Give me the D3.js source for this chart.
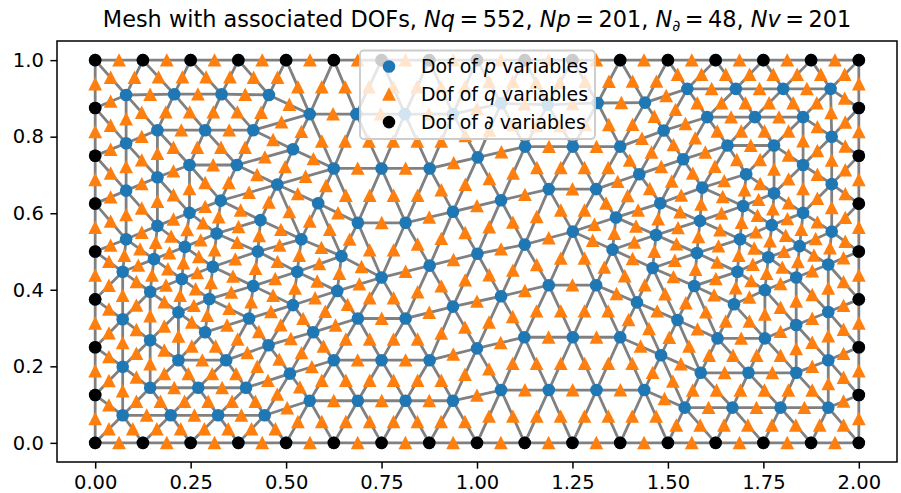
<!DOCTYPE html>
<html>
<head>
<meta charset="utf-8">
<script src="https://cdn.jsdelivr.net/npm/d3@7"></script>
<style>
body { margin: 0; background: #fff; }
svg { font-family: "DejaVu Sans", sans-serif; }
</style>
</head>
<body>
<script>

// boundary vertices (black dots)
var boundaryX = [0, 0.125, 0.25, 0.375, 0.5, 0.625, 0.75, 0.875, 1, 1.125, 1.25, 1.375, 1.5, 1.625, 1.75, 1.875, 2];
var sideY = [0.125, 0.25, 0.375, 0.5, 0.625, 0.75, 0.875];

// interior vertices
var innerX = [0.081,0.207,0.331,0.455,0.163,0.288,0.414,0.081,0.247,0.371,
	0.163,0.081,0.329,0.247,0.433,0.163,0.318,0.081,0.235,0.426,
	0.562,0.684,0.811,0.937,0.518,0.625,0.750,0.876,0.477,0.584,
	0.937,0.688,0.813,0.540,0.645,1.063,1.185,1.316,1.440,1.489,
	1.002,1.126,1.251,1.375,1.425,1.188,1.312,1.063,1.480,1.364,
	1.251,1.469,1.125,1.355,1.001,1.551,1.678,1.802,1.926,1.603,
	1.728,1.854,1.929,1.656,1.778,1.540,1.705,1.854,1.590,1.778,
	1.929,1.697,1.854,1.584,1.772,1.929,1.689,1.845,1.576,1.763,
	0.154,0.308,0.072,0.227,0.414,0.144,0.299,0.218,0.072,0.403,
	0.288,0.144,0.454,0.218,0.343,0.072,0.144,0.270,0.395,0.072,
	0.198,0.322,0.444,0.750,0.876,0.529,0.634,0.937,0.518,0.688,
	0.813,0.571,0.625,0.750,0.876,0.510,0.562,0.688,0.813,0.937,
	1.460,1.188,1.312,1.063,1.419,1.124,1.251,1.375,1.000,1.482,
	1.063,1.188,1.313,1.438,1.920,1.682,1.836,1.569,1.754,1.673,
	1.920,1.525,1.836,1.630,1.754,1.920,1.586,1.711,1.836,1.544,
	1.669,1.795,1.920];
var innerY = [0.909,0.911,0.911,0.909,0.817,0.817,0.817,0.783,0.726,0.726,
	0.694,0.659,0.633,0.601,0.582,0.567,0.547,0.532,0.512,0.500,
	0.859,0.859,0.859,0.859,0.767,0.717,0.717,0.717,0.675,0.626,
	0.604,0.575,0.575,0.532,0.488,0.887,0.883,0.888,0.889,0.816,
	0.746,0.774,0.774,0.774,0.702,0.663,0.663,0.634,0.626,0.589,
	0.552,0.543,0.518,0.505,0.494,0.925,0.925,0.925,0.925,0.851,
	0.851,0.851,0.800,0.777,0.777,0.741,0.702,0.726,0.667,0.652,
	0.676,0.619,0.601,0.580,0.569,0.552,0.532,0.514,0.496,0.485,
	0.480,0.460,0.447,0.428,0.410,0.395,0.376,0.341,0.323,0.325,
	0.289,0.268,0.255,0.216,0.216,0.199,0.144,0.144,0.144,0.072,
	0.072,0.072,0.072,0.432,0.463,0.447,0.397,0.356,0.360,0.325,
	0.325,0.289,0.216,0.216,0.216,0.181,0.110,0.110,0.110,0.110,
	0.457,0.412,0.412,0.383,0.367,0.276,0.276,0.276,0.247,0.229,
	0.138,0.138,0.138,0.138,0.466,0.447,0.432,0.410,0.399,0.362,
	0.342,0.321,0.308,0.273,0.273,0.216,0.183,0.183,0.183,0.092,
	0.092,0.092,0.092];

var xTicks = [0, 0.25, 0.5, 0.75, 1, 1.25, 1.5, 1.75, 2];
var yTicks = [0, 0.2, 0.4, 0.6, 0.8, 1];
var legendLabels = ["p", "q", "\u2202"];

var W = 901, H = 493;
var box = {left: 57, right: 897, top: 41, bottom: 462};

var svg = d3.select("body").append("svg")
	.attr("width", W)
	.attr("height", H);

var x = d3.scaleLinear().domain([-0.1, 2.1]).range([box.left, box.right]);
var y = d3.scaleLinear().domain([-0.05, 1.05]).range([box.bottom, box.top]);

// all vertices
var boundary = [];
boundaryX.forEach(function(bx) { boundary.push([bx, 0]); boundary.push([bx, 1]); });
sideY.forEach(function(sy) { boundary.push([0, sy]); boundary.push([2, sy]); });
var inner = innerX.map(function(v, i) { return [v, innerY[i]]; });
var pts = boundary.concat(inner);

// triangulate, collect the edges
var delaunay = d3.Delaunay.from(pts);
var tri = delaunay.triangles;
var edgeMap = new Map();
for (var t = 0; t < tri.length; t += 3) {
	var a = tri[t], b = tri[t + 1], c = tri[t + 2];
	var area = (pts[b][0] - pts[a][0]) * (pts[c][1] - pts[a][1]) - (pts[c][0] - pts[a][0]) * (pts[b][1] - pts[a][1]);
	if (Math.abs(area) < 1e-9) continue;
	[[a, b], [b, c], [c, a]].forEach(function(e) {
		var k = Math.min(e[0], e[1]) + "_" + Math.max(e[0], e[1]);
		if (!edgeMap.has(k)) edgeMap.set(k, e);
	});
}
var edges = Array.from(edgeMap.values());
var mids = edges.map(function(e) {
	return [(pts[e[0]][0] + pts[e[1]][0]) / 2, (pts[e[0]][1] + pts[e[1]][1]) / 2];
});

var plot = svg.append("g");

// mesh edges
plot.append("g").selectAll("line")
	.data(edges)
	.enter().append("line")
	.attr("x1", function(d) { return x(pts[d[0]][0]); })
	.attr("y1", function(d) { return y(pts[d[0]][1]); })
	.attr("x2", function(d) { return x(pts[d[1]][0]); })
	.attr("y2", function(d) { return y(pts[d[1]][1]); })
	.attr("stroke", "#808080")
	.attr("stroke-width", 2.8)
	.attr("stroke-linecap", "square");

var triPath = "M0,-7L6.9,6.4L-6.9,6.4Z";

// p dofs (all vertices)
plot.append("g").selectAll("circle")
	.data(pts)
	.enter().append("circle")
	.attr("cx", function(d) { return x(d[0]); })
	.attr("cy", function(d) { return y(d[1]); })
	.attr("r", 6.3)
	.attr("fill", "#1f77b4");

// q dofs (edge midpoints)
plot.append("g").selectAll("path")
	.data(mids)
	.enter().append("path")
	.attr("transform", function(d) { return "translate(" + x(d[0]) + "," + y(d[1]) + ")"; })
	.attr("d", triPath)
	.attr("fill", "#ff7f0e");

// boundary dofs
plot.append("g").selectAll("circle")
	.data(boundary)
	.enter().append("circle")
	.attr("cx", function(d) { return x(d[0]); })
	.attr("cy", function(d) { return y(d[1]); })
	.attr("r", 6.3)
	.attr("fill", "#000");

// axes
var xAxis = d3.axisBottom(x).tickValues(xTicks).tickFormat(d3.format(".2f")).tickSize(6.6).tickPadding(6.6);
var yAxis = d3.axisLeft(y).tickValues(yTicks).tickFormat(d3.format(".1f")).tickSize(6.6).tickPadding(6.6);

var gx = svg.append("g").attr("transform", "translate(0," + box.bottom + ")").call(xAxis);
var gy = svg.append("g").attr("transform", "translate(" + box.left + ",0)").call(yAxis);
[gx, gy].forEach(function(g) {
	g.select(".domain").remove();
	g.selectAll(".tick line").attr("stroke", "#000").attr("stroke-width", 1.5);
	g.selectAll(".tick text").attr("fill", "#000")
		.style("font-family", "DejaVu Sans")
		.style("font-size", "19.5px");
});

svg.append("rect")
	.attr("x", box.left).attr("y", box.top)
	.attr("width", box.right - box.left).attr("height", box.bottom - box.top)
	.attr("fill", "none")
	.attr("stroke", "#000")
	.attr("stroke-width", 1.5);

// legend
var lg = svg.append("g");
lg.append("rect")
	.attr("x", 360).attr("y", 50.5)
	.attr("width", 235).attr("height", 88.5)
	.attr("rx", 3.7)
	.attr("fill", "#fff").attr("fill-opacity", 0.8)
	.attr("stroke", "#cccccc").attr("stroke-width", 1.9);

legendLabels.forEach(function(lab, i) {
	var cy = 66.5 + i * 27.8;
	if (i === 1) {
		lg.append("path").attr("transform", "translate(389," + cy + ")").attr("d", triPath).attr("fill", "#ff7f0e");
	} else {
		lg.append("circle").attr("cx", 389).attr("cy", cy).attr("r", 6.3).attr("fill", i === 0 ? "#1f77b4" : "#000");
	}
	var tx = lg.append("text")
		.attr("x", 421).attr("y", cy + 6.7)
		.style("font-size", "18.9px")
		.attr("fill", "#000");
	tx.append("tspan").text("Dof of ");
	tx.append("tspan").style("font-style", "italic").text(lab);
	tx.append("tspan").text(" variables");
});

// title
var title = svg.append("text")
	.attr("x", (box.left + box.right) / 2)
	.attr("y", 27)
	.attr("text-anchor", "middle")
	.style("font-size", "22.4px")
	.attr("fill", "#000");
title.append("tspan").text("Mesh with associated DOFs, ");
title.append("tspan").style("font-style", "italic").text("Nq");
title.append("tspan").text("\u2009=\u2009552, ");
title.append("tspan").style("font-style", "italic").text("Np");
title.append("tspan").text("\u2009=\u2009201, ");
title.append("tspan").style("font-style", "italic").text("N");
title.append("tspan").style("font-style", "italic").style("font-size", "15.7px").attr("dy", 4).text("\u2202");
title.append("tspan").attr("dy", -4).text("\u2009=\u200948, ");
title.append("tspan").style("font-style", "italic").text("Nv");
title.append("tspan").text("\u2009=\u2009201");

</script>
</body>
</html>
